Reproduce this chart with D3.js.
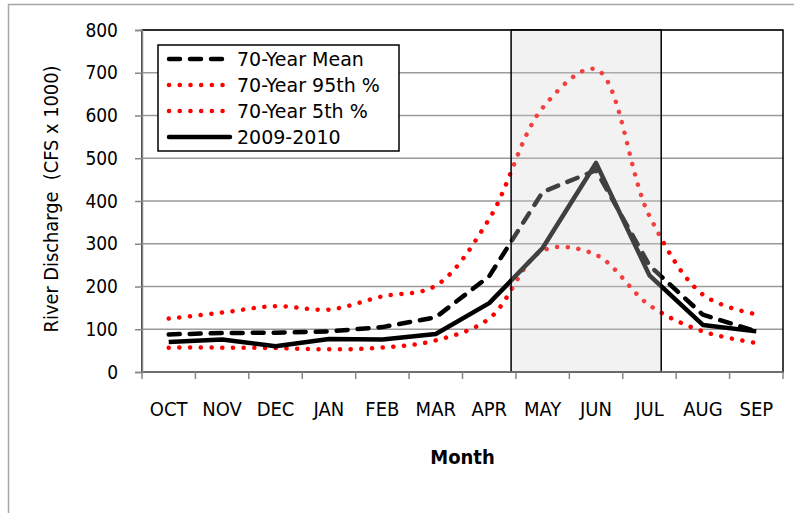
<!DOCTYPE html>
<html lang="en">
<head>
  <meta charset="UTF-8">
  <title>River Discharge</title>
  <script src="https://cdn.jsdelivr.net/npm/d3@7"></script>
  <style>
    body { margin: 0; background: #fff; }
    svg text { fill: #000; }
  </style>
</head>
<body>
  <div id="wrapper"></div>
  <script>
    // data (CFS x 1000)
    const months = ["OCT", "NOV", "DEC", "JAN", "FEB", "MAR", "APR", "MAY", "JUN", "JUL", "AUG", "SEP"]
    const mean70 = [88, 91, 92, 95, 105, 128, 224, 421, 472, 249, 134, 95]
    const p95 = [125, 139, 154, 146, 177, 202, 358, 618, 708, 365, 181, 135]
    const p5 = [57, 57, 56, 53, 57, 74, 125, 284, 274, 156, 95, 68]
    const wy2010 = [70, 76, 60, 77, 76, 89, 161, 290, 489, 226, 110, 95]
    const yTicks = [0, 100, 200, 300, 400, 500, 600, 700, 800]
    const seriesNames = ["70-Year Mean", "70-Year 95th %", "70-Year 5th %", "2009-2010"]

    const condensed = "'DejaVu Sans Condensed', 'DejaVu Sans', sans-serif"
    const regular = "'DejaVu Sans', sans-serif"

    const dimensions = {
      width: 794,
      height: 513,
      margin: { top: 30, right: 11, bottom: 141, left: 142 }
    }
    dimensions.boundedWidth = dimensions.width - dimensions.margin.left - dimensions.margin.right
    dimensions.boundedHeight = dimensions.height - dimensions.margin.top - dimensions.margin.bottom

    const svg = d3.select("#wrapper").append("svg")
      .attr("width", dimensions.width)
      .attr("height", dimensions.height)

    // outer chart frame (runs off the right/bottom edge)
    svg.append("rect")
      .attr("x", 8.5).attr("y", 4.5)
      .attr("width", 820).attr("height", 540)
      .attr("fill", "none").attr("stroke", "#a6a6a6").attr("stroke-width", 1.5)

    const bounds = svg.append("g")
      .attr("transform", `translate(${dimensions.margin.left}, ${dimensions.margin.top})`)

    const xScale = d3.scaleBand()
      .domain(months)
      .range([0, dimensions.boundedWidth])
      .padding(0)
    const xCenter = m => xScale(m) + xScale.bandwidth() / 2
    // continuous month-index scale, used for the highlighted season box
    const xIndex = d3.scaleLinear().domain([0, months.length]).range([0, dimensions.boundedWidth])

    const yScale = d3.scaleLinear()
      .domain([0, 800])
      .range([dimensions.boundedHeight, 0])

    // gridlines
    bounds.append("g")
      .selectAll("line")
      .data(yTicks)
      .join("line")
      .attr("x1", 0).attr("x2", dimensions.boundedWidth)
      .attr("y1", d => yScale(d)).attr("y2", d => yScale(d))
      .attr("stroke", "#9a9a9a").attr("stroke-width", 1.5)

    // plot area border
    bounds.append("rect")
      .attr("width", dimensions.boundedWidth).attr("height", dimensions.boundedHeight)
      .attr("fill", "none").attr("stroke", "#000").attr("stroke-width", 1.5)

    // lines
    const makeLine = curve => d3.line()
      .x((d, i) => xCenter(months[i]))
      .y(d => yScale(d))
      .curve(curve)

    const dotted = "0.1 10.6"
    const dashed = "11 10"

    bounds.append("path")
      .attr("d", makeLine(d3.curveCatmullRom.alpha(0.5))(p95))
      .attr("fill", "none").attr("stroke", "#ff0000").attr("stroke-width", 4.5)
      .attr("stroke-linecap", "round").attr("stroke-dasharray", dotted)
    bounds.append("path")
      .attr("d", makeLine(d3.curveCatmullRom.alpha(0.5))(p5))
      .attr("fill", "none").attr("stroke", "#ff0000").attr("stroke-width", 4.5)
      .attr("stroke-linecap", "round").attr("stroke-dasharray", dotted)
    bounds.append("path")
      .attr("d", makeLine(d3.curveLinear)(mean70))
      .attr("fill", "none").attr("stroke", "#000").attr("stroke-width", 4.5)
      .attr("stroke-linecap", "round").attr("stroke-linejoin", "round")
      .attr("stroke-dasharray", dashed)
    bounds.append("path")
      .attr("d", makeLine(d3.curveLinear)(wy2010))
      .attr("fill", "none").attr("stroke", "#000").attr("stroke-width", 4.5)
      .attr("stroke-linejoin", "round")

    // highlighted high-flow season (translucent box drawn over the lines)
    const shadeFrom = 6.91, shadeTo = 9.72
    bounds.append("rect")
      .attr("x", xIndex(shadeFrom)).attr("y", yScale(800))
      .attr("width", xIndex(shadeTo) - xIndex(shadeFrom))
      .attr("height", yScale(0) - yScale(800))
      .attr("fill", "rgb(212,212,212)").attr("fill-opacity", 0.3)
      .attr("stroke", "#000").attr("stroke-width", 1.5)

    // y axis
    const yAxis = d3.axisLeft(yScale).tickValues(yTicks).tickSize(7).tickPadding(17)
    const yAxisG = bounds.append("g").call(yAxis)
    yAxisG.select(".domain").attr("stroke", "#868686").attr("stroke-width", 1.5)
    yAxisG.selectAll(".tick line").attr("stroke", "#868686").attr("stroke-width", 1.5)
    yAxisG.selectAll(".tick text")
      .style("font-family", condensed)
      .attr("font-size", 19).attr("fill", "#000")

    // x axis: ticks sit on the month boundaries
    const xAxisG = bounds.append("g").attr("transform", `translate(0, ${dimensions.boundedHeight})`)
    xAxisG.append("line")
      .attr("x1", 0).attr("x2", dimensions.boundedWidth)
      .attr("stroke", "#868686").attr("stroke-width", 1.5)
    xAxisG.selectAll(".tk")
      .data(d3.range(months.length + 1))
      .join("line")
      .attr("class", "tk")
      .attr("x1", d => xIndex(d)).attr("x2", d => xIndex(d))
      .attr("y1", 0).attr("y2", 7)
      .attr("stroke", "#868686").attr("stroke-width", 1.5)
    xAxisG.selectAll("text")
      .data(months)
      .join("text")
      .attr("x", d => xCenter(d))
      .attr("y", 44)
      .attr("text-anchor", "middle")
      .style("font-family", condensed)
      .attr("font-size", 20)
      .text(d => d)

    // axis titles
    bounds.append("text")
      .attr("x", dimensions.boundedWidth / 2)
      .attr("y", 92)
      .attr("transform", `translate(0, ${dimensions.boundedHeight})`)
      .attr("text-anchor", "middle")
      .style("font-family", condensed)
      .attr("font-size", 20).attr("font-weight", "bold")
      .text("Month")
    svg.append("text")
      .attr("transform", `translate(58, ${dimensions.margin.top + dimensions.boundedHeight / 2 - 2}) rotate(-90)`)
      .attr("text-anchor", "middle")
      .style("font-family", condensed)
      .style("white-space", "pre")
      .attr("font-size", 19.8)
      .text("River Discharge  (CFS x 1000)")

    // legend
    const legend = svg.append("g").attr("transform", "translate(158, 45)")
    legend.append("rect")
      .attr("width", 241).attr("height", 106)
      .attr("fill", "#fff").attr("stroke", "#000").attr("stroke-width", 1.5)
    const legendStyles = [
      { stroke: "#000", dash: dashed },
      { stroke: "#ff0000", dash: dotted },
      { stroke: "#ff0000", dash: dotted },
      { stroke: "#000", dash: null }
    ]
    const rows = legend.selectAll(".row")
      .data(seriesNames)
      .join("g")
      .attr("class", "row")
      .attr("transform", (d, i) => `translate(0, ${14 + i * 26})`)
    rows.append("line")
      .attr("x1", 11).attr("x2", 72)
      .attr("stroke", (d, i) => legendStyles[i].stroke)
      .attr("stroke-width", 4.5)
      .attr("stroke-linecap", "round")
      .attr("stroke-dasharray", (d, i) => legendStyles[i].dash)
    rows.append("text")
      .attr("x", 79)
      .attr("dy", "0.36em")
      .style("font-family", regular)
      .attr("font-size", 19)
      .text(d => d)
  </script>
</body>
</html>
